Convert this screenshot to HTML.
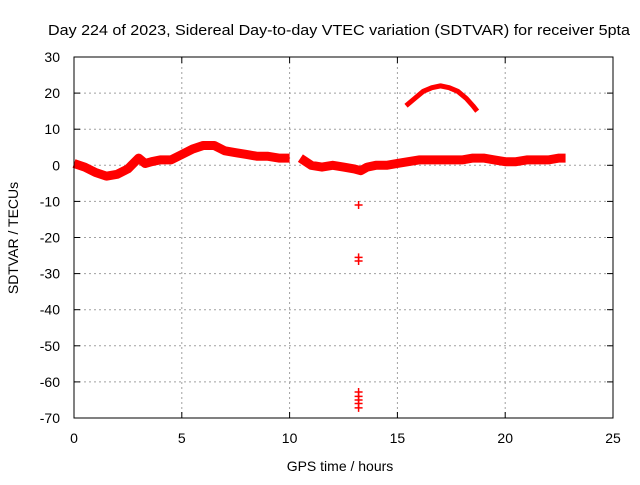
<!DOCTYPE html>
<html><head><meta charset="utf-8"><style>
body{margin:0;background:#fff}
svg text{font-family:"Liberation Sans",sans-serif;font-size:14px;fill:#000}
</style></head><body>
<svg id="chart" width="640" height="480" xmlns="http://www.w3.org/2000/svg">
<text x="339" y="35" text-anchor="middle" textLength="582" lengthAdjust="spacingAndGlyphs" style="font-size:15px">Day 224 of 2023, Sidereal Day-to-day VTEC variation (SDTVAR) for receiver 5pta</text>
<text x="340" y="471" text-anchor="middle">GPS time / hours</text>
<text transform="translate(18,238) rotate(-90)" text-anchor="middle">SDTVAR / TECUs</text>
<g id="grid"></g>
<g id="marks"></g>
<rect x="74" y="57" width="539" height="361" fill="none" stroke="#000" stroke-width="1"/>
</svg>
<script>
const xTicks=[0,5,10,15,20,25];
const yTicks=[30,20,10,0,-10,-20,-30,-40,-50,-60,-70];
const bandHours=[0,0.5,1,1.5,2,2.5,3,3.3,3.6,4,4.5,5,5.5,6,6.5,7,7.5,8,8.5,9,9.5,10];
const bandValues=[0.5,-0.5,-2,-3,-2.5,-1,2,0.5,1,1.5,1.5,3,4.5,5.5,5.5,4,3.5,3,2.5,2.5,2,2];
const band2Hours=[10.5,11,11.5,12,12.5,13,13.3,13.6,14,14.5,15,15.5,16,16.5,17,17.5,18,18.5,19,19.5,20,20.5,21,21.5,22,22.5,22.8];
const band2Values=[2,0,-0.5,0,-0.5,-1,-1.5,-0.5,0,0,0.5,1,1.5,1.5,1.5,1.5,1.5,2,2,1.5,1,1,1.5,1.5,1.5,2,2];
const arcHours=[15.4,15.8,16.2,16.6,17,17.4,17.8,18.2,18.5,18.7];
const arcValues=[16.5,18.5,20.5,21.5,22,21.5,20.5,18.5,16.5,15];
const outHours=[13.2,13.2,13.2,13.2,13.2,13.2,13.2,13.2];
const outValues=[-11,-25.5,-26.5,-62.8,-64,-65,-66,-67.2];
const X=h=>74+h*539/25, Y=v=>57+(30-v)*361/100;
const NS='http://www.w3.org/2000/svg';
const svg=document.getElementById('chart'),grid=document.getElementById('grid'),marks=document.getElementById('marks');
function mk(t,a,p){const e=document.createElementNS(NS,t);for(const k in a)e.setAttribute(k,a[k]);p.appendChild(e);return e;}
xTicks.forEach(t=>{
 if(t>0&&t<25){const l=mk('line',{x1:X(t),x2:X(t),y1:57,y2:418,stroke:'#a0a0a0','stroke-dasharray':'2,3'},grid);
 }
 mk('line',{x1:X(t),x2:X(t),y1:418,y2:412,stroke:'#000'},grid);mk('line',{x1:X(t),x2:X(t),y1:57,y2:63,stroke:'#000'},grid);
 const tx=mk('text',{x:X(t),y:443,'text-anchor':'middle'},grid);tx.textContent=t;
 
});
yTicks.forEach(t=>{
 if(t<30&&t>-70){const l=mk('line',{x1:74,x2:613,y1:Y(t),y2:Y(t),stroke:'#a0a0a0','stroke-dasharray':'2,3'},grid);
 }
 mk('line',{x1:74,x2:80,y1:Y(t),y2:Y(t),stroke:'#000'},grid);mk('line',{x1:613,x2:607,y1:Y(t),y2:Y(t),stroke:'#000'},grid);
 const tx=mk('text',{x:60,y:Y(t)+5,'text-anchor':'end'},grid);tx.textContent=t;
 
});
function line(hs,vs,w,name){const p=mk('polyline',{points:hs.map((h,i)=>X(h)+','+Y(vs[i])).join(' '),fill:'none',stroke:'#f00','stroke-width':w,'stroke-linejoin':'round'},marks);
 }
line(bandHours,bandValues,9,'sdtvar-band-1');
line(band2Hours,band2Values,9,'sdtvar-band-2');
line(arcHours,arcValues,5,'sdtvar-arc');
outHours.forEach((h,i)=>{const x=X(h),y=Y(outValues[i]);
 const p=mk('path',{d:`M${x-4},${y}h8M${x},${y-4}v8`,stroke:'#f00','stroke-width':1.5},marks);
 });
</script>
</body></html>
